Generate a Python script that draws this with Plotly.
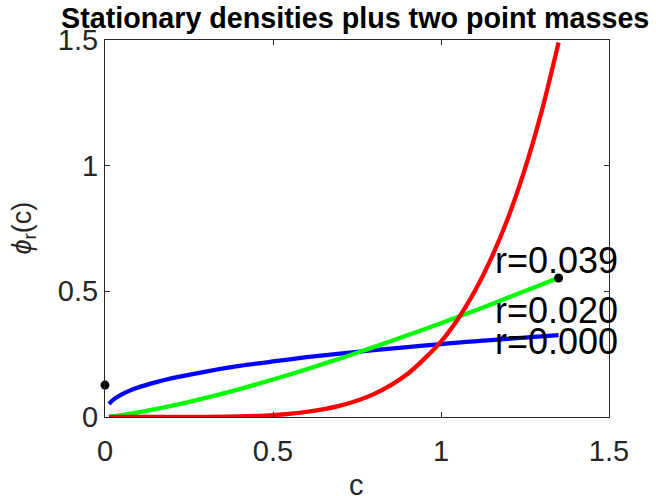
import plotly.graph_objects as go

# Grid of c values shared by the three stationary densities
c = [0.012, 0.025, 0.05, 0.1, 0.15, 0.2, 0.3, 0.4, 0.5, 0.6, 0.7, 0.8, 0.9,
     1.0, 1.05, 1.1, 1.15, 1.2, 1.25, 1.3, 1.35]

phi_r000 = [0.052, 0.069, 0.090, 0.118, 0.138, 0.155, 0.181, 0.203, 0.221, 0.238,
            0.252, 0.266, 0.278, 0.290, 0.296, 0.301, 0.306, 0.311, 0.316, 0.321, 0.326]
phi_r020 = [0.001, 0.003, 0.007, 0.018, 0.031, 0.045, 0.076, 0.111, 0.149, 0.190,
            0.233, 0.278, 0.325, 0.373, 0.398, 0.423, 0.449, 0.475, 0.501, 0.527, 0.554]
phi_r039 = [0.0, 0.0, 0.0, 0.0, 0.0, 0.0001, 0.0005, 0.002, 0.007, 0.020,
            0.045, 0.091, 0.171, 0.300, 0.389, 0.499, 0.633, 0.794, 0.988, 1.218, 1.490]

# Point masses at the two boundaries
mass_c = [0.0, 1.35]
mass_phi = [0.127, 0.553]

# Curve labels
label_text = ["r=0.039", "r=0.020", "r=0.000"]
label_x = [1.154, 1.154, 1.154]
label_y = [0.621, 0.422, 0.302]

tick_vals = [0, 0.5, 1, 1.5]
tick_text = ["0", "0.5", "1", "1.5"]

FONT = "Liberation Sans, Arial, sans-serif"
AX = "#262626"

fig = go.Figure()
for y, col in [(phi_r000, "#0000FF"), (phi_r020, "#00FF00"), (phi_r039, "#FF0000")]:
    fig.add_trace(go.Scatter(x=c, y=y, mode="lines",
                             line=dict(color=col, width=4.3, shape="spline", smoothing=0.8),
                             showlegend=False, hoverinfo="skip"))

fig.add_trace(go.Scatter(x=mass_c, y=mass_phi, mode="markers",
                         marker=dict(color="black", size=9, symbol="circle"),
                         cliponaxis=False, showlegend=False))

for t, x, y in zip(label_text, label_x, label_y):
    fig.add_annotation(x=x, y=y, text=t, showarrow=False, xanchor="left", yanchor="middle",
                       font=dict(family=FONT, size=36, color="black"))

axis_common = dict(showline=True, mirror="ticks", linecolor=AX, linewidth=1,
                   ticks="inside", ticklen=5, tickcolor=AX, showgrid=False, zeroline=False,
                   tickfont=dict(family=FONT, size=29, color=AX),
                   range=[0, 1.5], tickvals=tick_vals, ticktext=tick_text)

fig.update_layout(
    width=656, height=496,
    margin=dict(l=105, r=47, t=40, b=79),
    paper_bgcolor="white", plot_bgcolor="white",
    xaxis=dict(ticklabelstandoff=8, **axis_common),
    yaxis=dict(**axis_common),
    title=dict(text="<b>Stationary densities plus two point masses</b>",
               x=0.5415, xanchor="center", y=1 - 18 / 496, yanchor="middle",
               font=dict(family=FONT, size=28.7, color="black")),
)

fig.add_annotation(xref="paper", yref="paper", x=(356 - 105) / 504, y=(417 - 485) / 377,
                   text="c", showarrow=False, xanchor="center", yanchor="middle",
                   font=dict(family=FONT, size=29, color=AX))
fig.add_annotation(xref="paper", yref="paper", x=(23 - 105) / 504, y=0.5,
                   text="<i>ϕ</i><sub>r</sub>(c)", showarrow=False, textangle=-90,
                   xanchor="center", yanchor="middle",
                   font=dict(family=FONT, size=27, color=AX))

fig.write_html("out.html")
